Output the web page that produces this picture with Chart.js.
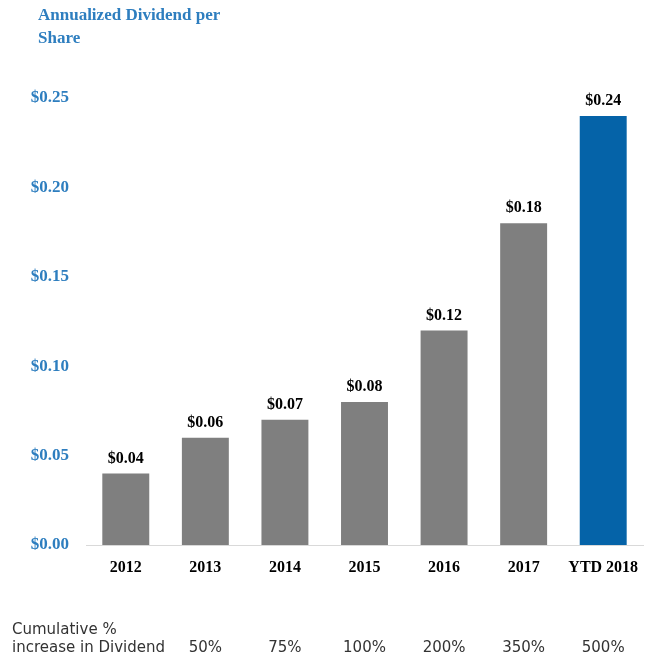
<!DOCTYPE html>
<html>
<head>
<meta charset="utf-8">
<script src="https://cdn.jsdelivr.net/npm/chart.js@4"></script>
<style>
  html, body { margin: 0; padding: 0; background: #fff; }
  #wrap { width: 653px; height: 660px; position: relative; }
</style>
</head>
<body>
<div id="wrap"><canvas id="myChart" width="653" height="660"></canvas></div>
<script>
var years = ['2012', '2013', '2014', '2015', '2016', '2017', 'YTD 2018'];
var dividends = [0.04, 0.06, 0.07, 0.08, 0.12, 0.18, 0.24];
var cumulative = ['', '50%', '75%', '100%', '200%', '350%', '500%'];
var barColors = ['#7f7f7f', '#7f7f7f', '#7f7f7f', '#7f7f7f', '#7f7f7f', '#7f7f7f', '#0563a8'];

var serif = '"Liberation Serif", "Times New Roman", serif';
var sans = '"DejaVu Sans", "Noto Sans", sans-serif';

var textPlugin = {
    id: 'texts',
    afterDraw: function (chart) {
        var c = chart.ctx;
        var x = chart.scales.x;
        c.save();
        // title
        c.fillStyle = '#2e7ebf';
        c.font = 'bold 17px ' + serif;
        c.textAlign = 'left';
        c.textBaseline = 'middle';
        c.fillText('Annualized Dividend per', 38, 16);
        c.fillText('Share', 38, 39);
        // value labels
        c.fillStyle = '#000';
        c.font = 'bold 16px ' + serif;
        c.textAlign = 'center';
        c.textBaseline = 'bottom';
        chart.getDatasetMeta(0).data.forEach(function (bar, i) {
            c.fillText('$' + dividends[i].toFixed(2), bar.x, bar.y - 7);
        });
        // cumulative row
        c.fillStyle = '#333';
        c.font = '15px ' + sans;
        c.textAlign = 'left';
        c.textBaseline = 'middle';
        c.fillText('Cumulative %', 12, 630);
        c.fillText('increase in Dividend', 12, 648);
        c.textAlign = 'center';
        cumulative.forEach(function (p, i) {
            if (p) c.fillText(p, x.getPixelForValue(i), 648);
        });
        c.restore();
    }
};

var ctx = document.getElementById('myChart').getContext('2d');
var myChart = new Chart(ctx, {
    type: 'bar',
    data: {
        labels: years,
        datasets: [{
            label: 'Annualized Dividend per Share',
            data: dividends,
            backgroundColor: barColors,
            categoryPercentage: 1,
            barPercentage: 0.59
        }]
    },
    options: {
        responsive: false,
        animation: false,
        layout: { padding: { top: 98, right: 10, bottom: 85, left: 0 } },
        plugins: {
            legend: { display: false },
            tooltip: { enabled: false }
        },
        scales: {
            x: {
                grid: { display: false },
                border: { color: '#d9d9d9', width: 1 },
                ticks: {
                    color: '#000',
                    font: { family: serif, size: 16, weight: 'bold' },
                    padding: 5,
                    maxRotation: 0
                },
                afterFit: function (s) { s.height = 30; }
            },
            y: {
                min: 0,
                max: 0.25,
                grid: { display: false },
                border: { display: false },
                ticks: {
                    stepSize: 0.05,
                    color: '#2e7ebf',
                    font: { family: serif, size: 17, weight: 'bold' },
                    padding: 9,
                    callback: function (v) { return '$' + v.toFixed(2); }
                },
                afterFit: function (s) { s.width = 86; }
            }
        }
    },
    plugins: [textPlugin]
});
</script>
</body>
</html>
